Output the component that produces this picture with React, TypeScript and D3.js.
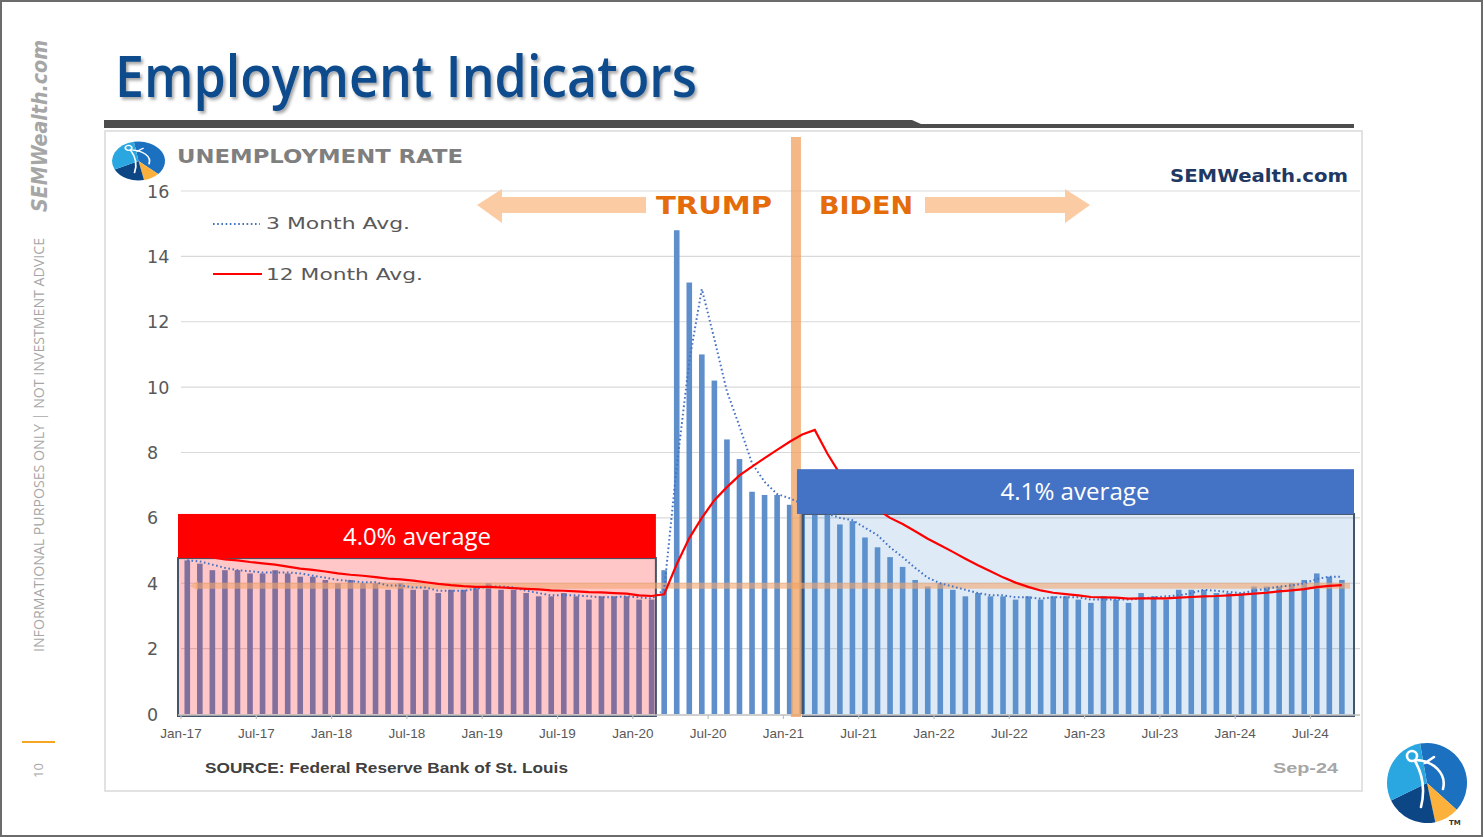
import React from "react";
import * as d3 from "d3";

// monthly unemployment rate, Jan-17 .. Sep-24
const rate: number[] = [
  4.7, 4.6, 4.4, 4.4, 4.4, 4.3, 4.3, 4.4, 4.3, 4.2, 4.2, 4.1,
  4.0, 4.1, 4.0, 4.0, 3.8, 4.0, 3.8, 3.8, 3.7, 3.8, 3.8, 3.9,
  4.0, 3.8, 3.8, 3.7, 3.6, 3.6, 3.7, 3.6, 3.5, 3.6, 3.6, 3.6,
  3.5, 3.5, 4.4, 14.8, 13.2, 11.0, 10.2, 8.4, 7.8, 6.8, 6.7, 6.7,
  6.4, 6.2, 6.1, 6.1, 5.8, 5.9, 5.4, 5.1, 4.8, 4.5, 4.1, 3.9,
  4.0, 3.8, 3.6, 3.7, 3.6, 3.6, 3.5, 3.6, 3.5, 3.6, 3.6, 3.5,
  3.4, 3.6, 3.5, 3.4, 3.7, 3.6, 3.5, 3.8, 3.8, 3.8, 3.7, 3.7,
  3.7, 3.9, 3.9, 3.9, 4.0, 4.1, 4.3, 4.2, 4.1,
];

// 3 month avg (dotted line)
const avg3: number[] = [
  4.70, 4.67, 4.57, 4.47, 4.40, 4.37, 4.33, 4.33, 4.33, 4.30, 4.23, 4.17,
  4.10, 4.07, 4.03, 4.03, 3.93, 3.93, 3.87, 3.87, 3.77, 3.77, 3.77, 3.83,
  3.90, 3.90, 3.87, 3.77, 3.70, 3.63, 3.63, 3.63, 3.60, 3.57, 3.57, 3.60,
  3.57, 3.53, 3.80, 7.57, 10.80, 13.00, 11.47, 9.87, 8.80, 7.67, 7.10, 6.73,
  6.60, 6.43, 6.23, 6.13, 6.00, 5.93, 5.70, 5.47, 5.10, 4.80, 4.47, 4.17,
  4.00, 3.90, 3.80, 3.70, 3.63, 3.63, 3.57, 3.57, 3.53, 3.57, 3.57, 3.57,
  3.50, 3.50, 3.50, 3.50, 3.53, 3.57, 3.60, 3.63, 3.70, 3.80, 3.77, 3.73,
  3.70, 3.77, 3.83, 3.90, 3.93, 4.00, 4.13, 4.20, 4.20,
];

// 12 month avg (red line)
const avg12: number[] = [
  4.87, 4.84, 4.79, 4.73, 4.70, 4.65, 4.61, 4.57, 4.51, 4.45, 4.41, 4.36,
  4.30, 4.26, 4.23, 4.19, 4.14, 4.12, 4.08, 4.03, 3.98, 3.94, 3.91, 3.89,
  3.89, 3.87, 3.85, 3.83, 3.81, 3.78, 3.77, 3.75, 3.73, 3.72, 3.70, 3.68,
  3.63, 3.61, 3.66, 4.58, 5.38, 6.00, 6.54, 6.94, 7.30, 7.57, 7.83, 8.08,
  8.33, 8.55, 8.69, 7.97, 7.35, 6.93, 6.53, 6.25, 6.00, 5.81, 5.59, 5.36,
  5.16, 4.96, 4.75, 4.55, 4.37, 4.18, 4.02, 3.89, 3.78, 3.71, 3.67, 3.63,
  3.58, 3.57, 3.56, 3.53, 3.54, 3.54, 3.54, 3.56, 3.58, 3.60, 3.61, 3.63,
  3.65, 3.68, 3.71, 3.75, 3.78, 3.82, 3.88, 3.92, 3.94,
];

const tickLabels: string[] = [
  "Jan-17", "Jul-17", "Jan-18", "Jul-18", "Jan-19", "Jul-19", "Jan-20", "Jul-20",
  "Jan-21", "Jul-21", "Jan-22", "Jul-22", "Jan-23", "Jul-23", "Jan-24", "Jul-24",
];
const yTicks: number[] = [0, 2, 4, 6, 8, 10, 12, 14, 16];

// term averages
const trumpAvg = "4.0% average";
const bidenAvg = "4.1% average";
const termSplit = 49; // Feb-21 index
const avgLineValue = 3.92;

const W = 1484;
const H = 837;
const step = 12.55;
const plotLeft = 181;
const plotRight = 1360;

const x = d3.scaleBand<number>()
  .domain(d3.range(rate.length))
  .range([plotLeft, plotLeft + step * rate.length])
  .padding(0);
const y = d3.scaleLinear().domain([0, 16]).range([714, 191]);
const cx = (i: number) => (x(i) as number) + step / 2;
const barW = 5.6;

const line = d3.line<number>().x((d, i) => cx(i)).y(d => y(d));

const Logo = (props: any) => {
  const { cxp, cyp, sx, sy } = props;
  const arc = d3.arc<any>().innerRadius(0).outerRadius(40);
  const deg = (a: number) => (a * Math.PI) / 180;
  const slices = [
    { a0: -10, a1: 132, c: "#1C70C0" },
    { a0: 132, a1: 168, c: "#FBB13C" },
    { a0: 168, a1: 244, c: "#0D4685" },
    { a0: 244, a1: 350, c: "#2AA6E0" },
  ];
  return (
    <g transform={`translate(${cxp},${cyp}) scale(${sx},${sy})`}>
      {slices.map((s, k) => (
        <path key={k} d={arc({ startAngle: deg(s.a0), endAngle: deg(s.a1) }) as string} fill={s.c} />
      ))}
      <g fill="none" stroke="#fff" strokeWidth={2.6} strokeLinecap="round">
        <circle cx={-15} cy={-27} r={5} />
        <path d="M -12 -22 C -4 -8, -2 8, -6 24" />
        <path d="M -11 -23 C 6 -22, 20 -10, 16 6" />
        <path d="M -2 -20 L 7 -26" />
      </g>
    </g>
  );
};

const App = () => {
  const trumpL = plotLeft - 3;
  const trumpR = (x(38) as number) - 2;
  const bidenL = (x(termSplit) as number) + 7;
  const bidenR = 1354;
  const vbarX = x(termSplit) as number;

  return (
    <div style={{ position: "absolute", left: 0, top: 0 }}>
      <svg width={W} height={H} viewBox={`0 0 ${W} ${H}`} style={{ display: "block", background: "#fff" }}>
        <defs>
          <filter id="shadow" x="-5%" y="-20%" width="110%" height="150%">
            <feDropShadow dx="2" dy="2.5" stdDeviation="1.5" floodColor="#000" floodOpacity="0.35" />
          </filter>
        </defs>

        {/* slide frame */}
        <rect x={1} y={1} width={W - 3} height={H - 2} fill="#fff" stroke="#6b6b6b" strokeWidth={2} />

        {/* side notes */}
        <text transform="translate(47,212) rotate(-90)" fontFamily="DejaVu Sans" fontWeight="bold" fontStyle="italic"
          fontSize={22} fill="#A6A6A6" textLength={172} lengthAdjust="spacingAndGlyphs">SEMWealth.com</text>
        <text transform="translate(44,652) rotate(-90)" fontFamily="Open Sans" fontSize={14} fill="#A6A6A6"
          textLength={414} lengthAdjust="spacingAndGlyphs">INFORMATIONAL PURPOSES ONLY | NOT INVESTMENT ADVICE</text>
        <line x1={22} x2={55} y1={742} y2={742} stroke="#F5A623" strokeWidth={2} />
        <text transform="translate(43,778) rotate(-90)" fontFamily="Open Sans" fontSize={13} fill="#A6A6A6">10</text>

        {/* title */}
        <text x={115} y={97} fontFamily="Open Sans" fontWeight={600} fontSize={57} fill="#0F4C8D"
          textLength={582} lengthAdjust="spacingAndGlyphs" filter="url(#shadow)">Employment Indicators</text>
        <path d="M104 120 L912 120 L921 124 L1354 124 L1354 128 L104 128 Z" fill="#4D4D4D" />

        {/* chart panel */}
        <rect x={105} y={131} width={1257} height={660} fill="#fff" stroke="#D9D9D9" strokeWidth={1.5} />
        <Logo cxp={138.5} cyp={161} sx={26.5 / 40} sy={19.5 / 40} />
        <text x={177} y={163} fontFamily="DejaVu Sans" fontWeight="bold" fontSize={20} fill="#7F7F7F"
          textLength={286} lengthAdjust="spacingAndGlyphs">UNEMPLOYMENT RATE</text>
        <text x={1348} y={182} textAnchor="end" fontFamily="DejaVu Sans" fontWeight="bold" fontSize={17} fill="#1F3864"
          textLength={178} lengthAdjust="spacingAndGlyphs">SEMWealth.com</text>

        {/* grid */}
        {yTicks.filter(t => t > 0).map(t => (
          <line key={t} x1={plotLeft} x2={plotRight} y1={y(t)} y2={y(t)} stroke="#D9D9D9" strokeWidth={1.2} />
        ))}
        {yTicks.map(t => (
          <text key={t} x={147} y={y(t) + 6.5} fontFamily="DejaVu Sans" fontSize={17.5} fill="#595959">{t}</text>
        ))}

        {/* bars */}
        {rate.map((v, i) => (
          <rect key={i} x={cx(i) - barW / 2} y={y(v)} width={barW} height={y(0) - y(v)} fill="#5E8FCB" />
        ))}

        {/* term regions */}
        <rect x={trumpL} y={y(4.77)} width={trumpR - trumpL} height={y(0) + 2 - y(4.77)}
          fill="rgba(255,0,0,0.22)" stroke="#44546A" strokeWidth={2} />
        <rect x={bidenL} y={y(6.12)} width={bidenR - bidenL} height={y(0) + 2 - y(6.12)}
          fill="rgba(91,155,213,0.2)" stroke="#44546A" strokeWidth={2} />

        {/* axis */}
        <line x1={plotLeft - 3} x2={plotRight} y1={y(0) + 1} y2={y(0) + 1} stroke="#BFBFBF" strokeWidth={1.5} />
        {tickLabels.map((lab, k) => {
          const tx = x(k * 6) as number;
          return (
            <g key={lab}>
              <line x1={tx} x2={tx} y1={y(0) + 1} y2={y(0) + 5} stroke="#BFBFBF" strokeWidth={1.2} />
              <text x={tx} y={738} textAnchor="middle" fontFamily="Liberation Sans Narrow, Liberation Sans, sans-serif"
                fontSize={13.5} fill="#595959">{lab}</text>
            </g>
          );
        })}

        {/* overall average line */}
        <line x1={196} x2={1350} y1={y(avgLineValue)} y2={y(avgLineValue)} stroke="rgba(244,166,110,0.6)" strokeWidth={6} />
        <path d={`M190 ${y(avgLineValue)} L198 ${y(avgLineValue) - 5} L198 ${y(avgLineValue) + 5} Z`} fill="rgba(244,166,110,0.6)" />

        {/* vertical term split */}
        <rect x={vbarX - 5} y={137} width={10} height={580} fill="rgba(240,160,95,0.75)" />

        {/* moving averages */}
        <path d={line(avg3) as string} fill="none" stroke="#4472C4" strokeWidth={2} strokeDasharray="1.6 2.6" />
        <path d={line(avg12) as string} fill="none" stroke="#FF0000" strokeWidth={2.2} />

        {/* term labels */}
        <rect x={trumpL} y={y(6.12)} width={trumpR - trumpL} height={y(4.77) - y(6.12)} fill="#FF0000" />
        <text x={(trumpL + trumpR) / 2} y={545} textAnchor="middle" fontFamily="Open Sans" fontSize={23} fill="#fff"
          textLength={148} lengthAdjust="spacingAndGlyphs">{trumpAvg}</text>
        <rect x={bidenL - 6} y={y(7.49)} width={bidenR - bidenL + 6} height={y(6.12) - y(7.49)} fill="#4472C4" />
        <text x={1075} y={500} textAnchor="middle" fontFamily="Open Sans" fontSize={23} fill="#fff"
          textLength={149} lengthAdjust="spacingAndGlyphs">{bidenAvg}</text>

        {/* president arrows */}
        <path d="M477 205 L502 189 L502 197 L646 197 L646 213 L502 213 L502 223 Z" fill="#FBCBA4" />
        <path d="M1090 205 L1065 189 L1065 197 L925 197 L925 213 L1065 213 L1065 223 Z" fill="#FBCBA4" />
        <text x={656} y={214} fontFamily="DejaVu Sans" fontWeight="bold" fontSize={24} fill="#E46C0A"
          textLength={116} lengthAdjust="spacingAndGlyphs">TRUMP</text>
        <text x={819} y={214} fontFamily="DejaVu Sans" fontWeight="bold" fontSize={24} fill="#E46C0A"
          textLength={94} lengthAdjust="spacingAndGlyphs">BIDEN</text>

        {/* legend */}
        <line x1={213} x2={260} y1={224} y2={224} stroke="#4472C4" strokeWidth={2} strokeDasharray="1.6 2.6" />
        <text x={266} y={229} fontFamily="DejaVu Sans" fontSize={16} fill="#595959"
          textLength={144} lengthAdjust="spacingAndGlyphs">3 Month Avg.</text>
        <line x1={213} x2={262} y1={274} y2={274} stroke="#FF0000" strokeWidth={2} />
        <text x={266} y={280} fontFamily="DejaVu Sans" fontSize={16} fill="#595959"
          textLength={157} lengthAdjust="spacingAndGlyphs">12 Month Avg.</text>

        {/* footer */}
        <text x={205} y={773} fontFamily="Liberation Sans Narrow, Liberation Sans, sans-serif" fontWeight="bold"
          fontSize={15} fill="#404040" textLength={363} lengthAdjust="spacingAndGlyphs">SOURCE:  Federal Reserve Bank of St. Louis</text>
        <text x={1338} y={773} textAnchor="end" fontFamily="Liberation Sans Narrow, Liberation Sans, sans-serif"
          fontWeight="bold" fontSize={15} fill="#A6A6A6" textLength={65} lengthAdjust="spacingAndGlyphs">Sep-24</text>

        <Logo cxp={1427} cyp={783} sx={1} sy={1} />
        <text x={1449} y={825} fontFamily="DejaVu Sans" fontWeight="bold" fontSize={7} fill="#333">TM</text>
      </svg>
    </div>
  );
};

export default App;
